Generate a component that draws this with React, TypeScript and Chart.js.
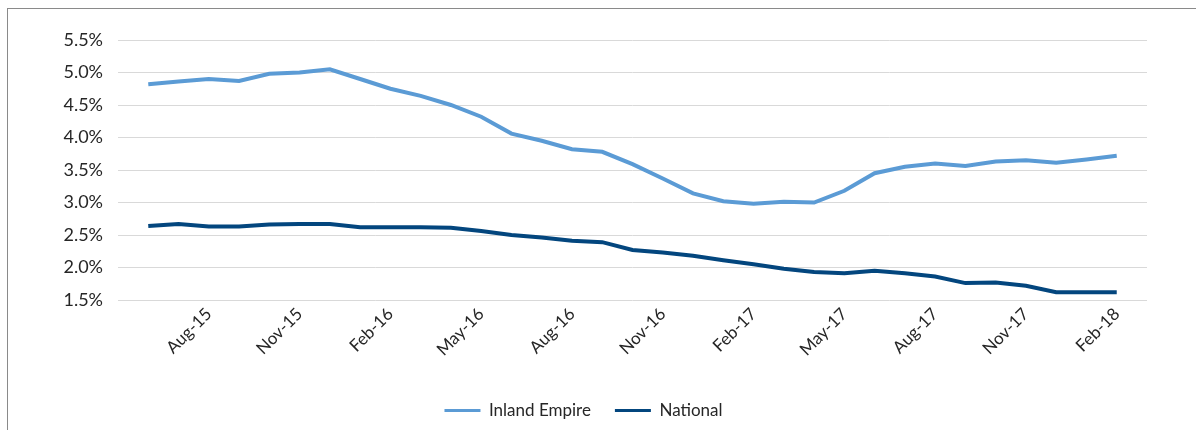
import React, { useEffect, useRef } from "react";
import { Chart, registerables } from "chart.js";

Chart.register(...registerables);

const months = [
  "Jun-15", "Jul-15", "Aug-15", "Sep-15", "Oct-15", "Nov-15", "Dec-15",
  "Jan-16", "Feb-16", "Mar-16", "Apr-16", "May-16", "Jun-16", "Jul-16", "Aug-16", "Sep-16", "Oct-16", "Nov-16", "Dec-16",
  "Jan-17", "Feb-17", "Mar-17", "Apr-17", "May-17", "Jun-17", "Jul-17", "Aug-17", "Sep-17", "Oct-17", "Nov-17", "Dec-17",
  "Jan-18", "Feb-18",
];

const inlandEmpire = [
  4.82, 4.86, 4.90, 4.87, 4.98, 5.00, 5.05, 4.90, 4.75, 4.64, 4.50, 4.32,
  4.06, 3.95, 3.82, 3.78, 3.59, 3.37, 3.14, 3.02, 2.98, 3.01, 3.00, 3.18,
  3.45, 3.55, 3.60, 3.56, 3.63, 3.65, 3.61, 3.66, 3.72,
];

const national = [
  2.64, 2.67, 2.63, 2.63, 2.66, 2.67, 2.67, 2.62, 2.62, 2.62, 2.61, 2.56,
  2.50, 2.46, 2.41, 2.39, 2.27, 2.23, 2.18, 2.11, 2.05, 1.98, 1.93, 1.91,
  1.95, 1.91, 1.86, 1.76, 1.77, 1.72, 1.62, 1.62, 1.62,
];

const yTicks = [1.5, 2.0, 2.5, 3.0, 3.5, 4.0, 4.5, 5.0, 5.5];

const seriesNames = ["Inland Empire", "National"];

const W = 1165;
const H = 420;

export default function App() {
  const ref = useRef<HTMLCanvasElement | null>(null);

  useEffect(() => {
    if (!ref.current) return;
    const labels = ["", ...months, ""];
    const pad = (arr: number[]) => [null, ...arr, null];
    const font = "Lato, 'Noto Sans', sans-serif";
    const chart = new Chart(ref.current, {
      type: "line",
      data: {
        labels,
        datasets: [
          {
            label: seriesNames[0],
            data: pad(inlandEmpire),
            borderColor: "#5b9bd5",
            backgroundColor: "#5b9bd5",
            borderWidth: 4,
            pointRadius: 0,
            tension: 0,
          },
          {
            label: seriesNames[1],
            data: pad(national),
            borderColor: "#03467e",
            backgroundColor: "#03467e",
            borderWidth: 4,
            pointRadius: 0,
            tension: 0,
          },
        ],
      },
      options: {
        animation: false,
        responsive: false,
        maintainAspectRatio: false,
        layout: { padding: { top: 31, right: 26, bottom: 0, left: 12 } },
        plugins: {
          tooltip: { enabled: false },
          legend: {
            position: "bottom",
            labels: {
              boxWidth: 36,
              boxHeight: 3,
              padding: 24,
              color: "#262626",
              font: { family: font, size: 17 },
              generateLabels: (c: any) =>
                Chart.defaults.plugins.legend.labels.generateLabels(c).map((it: any) => ({
                  ...it,
                  lineWidth: 0,
                })),
            },
          },
        },
        scales: {
          x: {
            type: "category",
            offset: false,
            grid: { display: false, drawTicks: false },
            border: { display: false },
            afterFit: (s: any) => {
              s.height = 78;
              s.paddingLeft = 0;
              s.paddingRight = 0;
            },
            ticks: {
              autoSkip: false,
              maxRotation: 45,
              minRotation: 45,
              padding: 4,
              color: "#262626",
              font: { family: font, size: 17 },
              callback: (_v: any, i: number) =>
                i > 0 && i < labels.length - 1 && i % 3 === 0 ? labels[i] : "",
            },
          },
          y: {
            min: yTicks[0],
            max: yTicks[yTicks.length - 1],
            afterFit: (s: any) => {
              s.width = 98;
            },
            afterBuildTicks: (s: any) => {
              s.ticks = yTicks.map((v) => ({ value: v }));
            },
            grid: { color: "#d9d9d9", lineWidth: 1, drawTicks: false },
            border: { display: false },
            ticks: {
              padding: 15,
              color: "#262626",
              font: { family: font, size: 18 },
              callback: (v: any) => Number(v).toFixed(1) + "%",
            },
          },
        },
      },
    });
    return () => chart.destroy();
  }, []);

  return (
    <div
      style={{
        position: "fixed",
        left: 7,
        top: 8,
        right: 0,
        bottom: 0,
        overflow: "hidden",
        borderTop: "1px solid #8a8a8a",
        borderLeft: "1px solid #8a8a8a",
        background: "#fff",
      }}
    >
      <div style={{ position: "absolute", left: 0, top: 0, width: W, height: H }}>
        <canvas ref={ref} width={W} height={H} style={{ width: W, height: H, display: "block" }} />
      </div>
    </div>
  );
}
